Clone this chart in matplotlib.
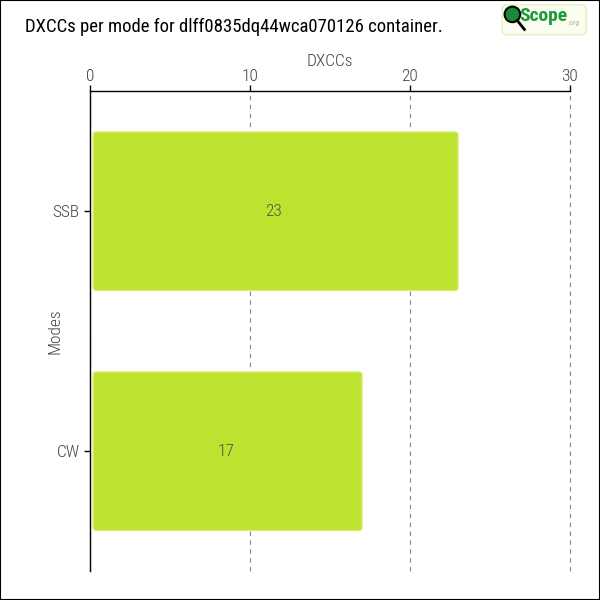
import matplotlib
matplotlib.use('Agg')
import matplotlib.pyplot as plt
from matplotlib.patches import FancyBboxPatch, Rectangle, Circle

# data
modes = ['SSB', 'CW']
dxccs = [23, 17]
title = 'DXCCs per mode for dlff0835dq44wca070126 container.'

plt.rcParams['font.family'] = ['Roboto Condensed', 'Roboto', 'DejaVu Sans']

fig = plt.figure(figsize=(6, 6), dpi=100)
ax = fig.add_axes([0.15, 0.048, 0.8, 0.8])

pos = list(range(len(modes)))
bars = ax.barh(pos, dxccs, height=0.66, color='none')
for b, v in zip(bars, dxccs):
    x0, y0, w, h = b.get_x(), b.get_y(), b.get_width(), b.get_height()
    p = FancyBboxPatch((x0 + 0.2, y0), w - 0.2, h,
                       boxstyle='round,pad=0,rounding_size=0.2',
                       mutation_aspect=0.067,
                       facecolor='#bde22f', edgecolor='#d4ee6a', lw=1, zorder=2)
    ax.add_patch(p)
    ax.text(v / 2, b.get_y() + h / 2, str(v), ha='center', va='center',
            fontsize=12.5, color='#4a5a3a', fontweight='light', zorder=3)

ax.set_xlim(0, 30)
ax.set_ylim(1.5, -0.5)
ax.set_yticks(pos)
ax.set_yticklabels(modes)
ax.set_xticks([0, 10, 20, 30])
ax.xaxis.tick_top()
ax.xaxis.set_label_position('top')
ax.set_xlabel('DXCCs', fontsize=12.5, color='#444444', labelpad=2, fontweight='light')
ax.set_ylabel('Modes', fontsize=12.5, color='#444444', fontweight='light')
ax.yaxis.set_label_coords(-0.058, 0.5)
ax.tick_params(axis='both', labelsize=12.5, labelcolor='#444444', length=4, width=1)
ax.tick_params(axis='x', pad=1)
for t in ax.get_xticklabels() + ax.get_yticklabels():
    t.set_fontweight('light')
ax.grid(axis='x', linestyle=(0, (4, 4)), color='#888888', lw=0.8, zorder=0)
for gl in ax.get_xgridlines():
    gl.set_clip_on(False)
ax.set_axisbelow(True)
for s in ['right', 'bottom']:
    ax.spines[s].set_visible(False)
ax.spines['top'].set_linewidth(1)
ax.spines['left'].set_linewidth(1)

fig.text(0.042, 0.955, title, fontsize=13.5, color='black', va='center', ha='left')

# logo
fig.patches.append(FancyBboxPatch((0.837, 0.942), 0.14, 0.05, boxstyle='round,pad=0,rounding_size=0.008',
                                  transform=fig.transFigure, facecolor='#fbfdf0', edgecolor='#e6efc0', lw=1))
fig.patches.append(Circle((0.854, 0.976), 0.013, transform=fig.transFigure, facecolor='#1a8a3a', edgecolor='black', lw=1.5))
fig.lines.append(plt.Line2D([0.862, 0.874], [0.966, 0.951], transform=fig.transFigure, color='black', lw=2))
fig.text(0.866, 0.973, 'Scope', fontsize=14, color='#1a9a3a', fontweight='bold', va='center', ha='left')
fig.text(0.946, 0.962, '.org', fontsize=5.5, color='#9ac090', va='center', ha='left')

# border
fig.patches.append(Rectangle((0, 0), 1, 1, transform=fig.transFigure, fill=False, edgecolor='black', lw=1.5))

fig.savefig('out.png', dpi=100)
